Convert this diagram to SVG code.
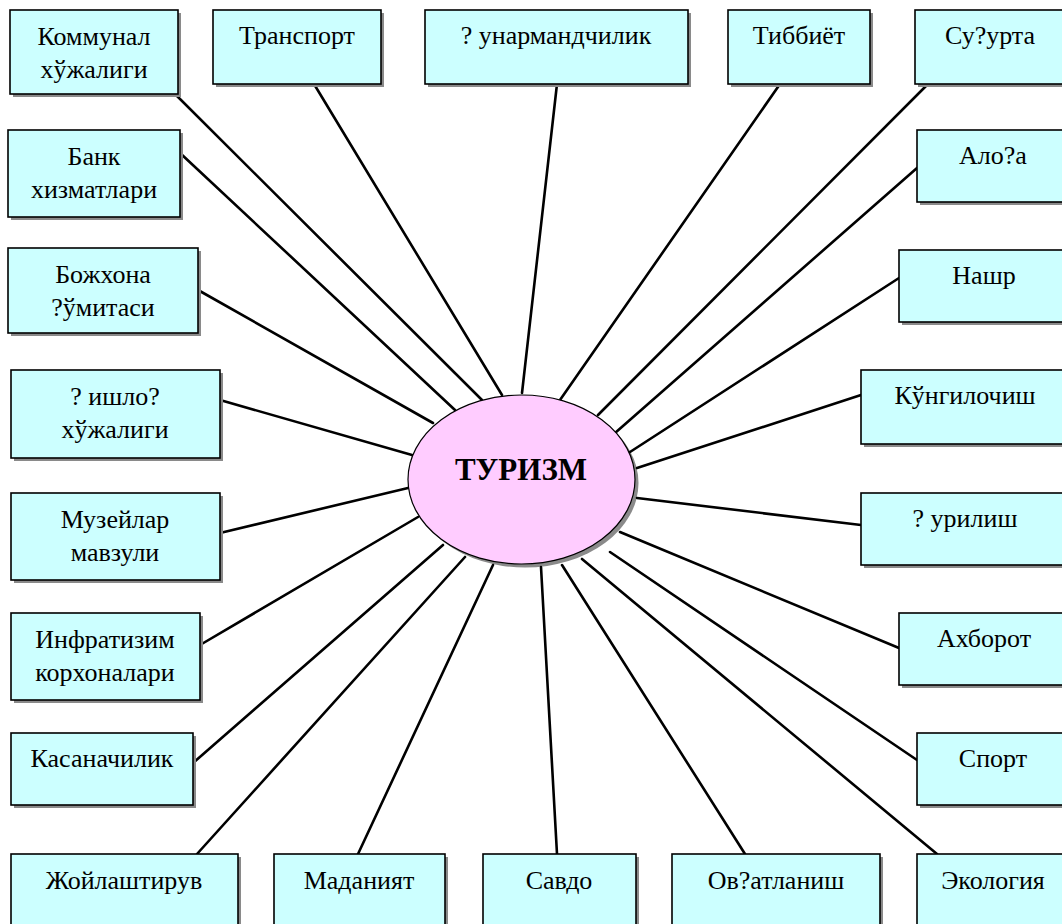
<svg xmlns="http://www.w3.org/2000/svg" width="1062" height="924" viewBox="0 0 1062 924">
<style>
.bx{fill:#CCFFFF;stroke:#000;stroke-width:1.6}
.sh{fill:#8a8a8a}
.t{font-family:"Liberation Serif","Times New Roman",serif;font-size:26px;fill:#000;text-anchor:middle}
.c{stroke:#000;stroke-width:2.6;fill:none;stroke-linecap:round}
.ct{font-family:"Liberation Serif","Times New Roman",serif;font-size:31px;font-weight:bold;fill:#000;text-anchor:middle}
</style>
<rect width="1062" height="924" fill="#fff"/>
<ellipse cx="525" cy="483" rx="113.5" ry="84.5" class="sh"/>
<g id="connectors">
<line class="c" x1="175" y1="94" x2="482" y2="400"/>
<line class="c" x1="314" y1="84" x2="502" y2="395"/>
<line class="c" x1="557" y1="84" x2="522" y2="393"/>
<line class="c" x1="780" y1="84" x2="560" y2="400"/>
<line class="c" x1="928" y1="84" x2="598" y2="415"/>
<line class="c" x1="180" y1="153" x2="455" y2="410"/>
<line class="c" x1="917" y1="168" x2="615" y2="433"/>
<line class="c" x1="198" y1="290" x2="433" y2="423"/>
<line class="c" x1="899" y1="278" x2="630" y2="452"/>
<line class="c" x1="220" y1="400" x2="412" y2="455"/>
<line class="c" x1="861" y1="395" x2="637" y2="468"/>
<line class="c" x1="220" y1="533" x2="408" y2="488"/>
<line class="c" x1="861" y1="525" x2="637" y2="498"/>
<line class="c" x1="200" y1="645" x2="418" y2="517"/>
<line class="c" x1="899" y1="648" x2="620" y2="532"/>
<line class="c" x1="193" y1="763" x2="443" y2="545"/>
<line class="c" x1="917" y1="760" x2="610" y2="552"/>
<line class="c" x1="197" y1="854" x2="465" y2="557"/>
<line class="c" x1="358" y1="854" x2="493" y2="565"/>
<line class="c" x1="557" y1="854" x2="541" y2="567"/>
<line class="c" x1="745" y1="854" x2="562" y2="565"/>
<line class="c" x1="937" y1="854" x2="582" y2="559"/>
</g>
<g id="center">
<ellipse cx="521.5" cy="479.5" rx="113.5" ry="84.5" fill="#FFCCFF" stroke="#000" stroke-width="1.2"/>
<text class="ct" x="521" y="480">ТУРИЗМ</text>
</g>
<g id="n-kommunal"><rect class="sh" x="13" y="13" width="168" height="84"/><rect class="bx" x="10" y="10" width="168" height="84"/><text class="t" x="94" y="45">Коммунал</text><text class="t" x="94" y="78">хўжалиги</text></g>
<g id="n-transport"><rect class="sh" x="216" y="13" width="168" height="74"/><rect class="bx" x="213" y="10" width="168" height="74"/><text class="t" x="297" y="44">Транспорт</text></g>
<g id="n-hunarmand"><rect class="sh" x="428" y="13" width="263" height="74"/><rect class="bx" x="425" y="10" width="263" height="74"/><text class="t" x="556" y="44">? унармандчилик</text></g>
<g id="n-tibbiyot"><rect class="sh" x="731" y="13" width="142" height="74"/><rect class="bx" x="728" y="10" width="142" height="74"/><text class="t" x="799" y="44">Тиббиёт</text></g>
<g id="n-sugurta"><rect class="sh" x="918" y="13" width="155" height="74"/><rect class="bx" x="915" y="10" width="155" height="74"/><text class="t" x="990" y="44">Су?урта</text></g>
<g id="n-bank"><rect class="sh" x="11" y="133" width="172" height="87"/><rect class="bx" x="8" y="130" width="172" height="87"/><text class="t" x="94" y="165">Банк</text><text class="t" x="94" y="198">хизматлари</text></g>
<g id="n-bojxona"><rect class="sh" x="11" y="251" width="190" height="85"/><rect class="bx" x="8" y="248" width="190" height="85"/><text class="t" x="103" y="283">Божхона</text><text class="t" x="103" y="316">?ўмитаси</text></g>
<g id="n-qishloq"><rect class="sh" x="14" y="373" width="209" height="88"/><rect class="bx" x="11" y="370" width="209" height="88"/><text class="t" x="115" y="405">? ишло?</text><text class="t" x="115" y="438">хўжалиги</text></g>
<g id="n-muzey"><rect class="sh" x="14" y="496" width="209" height="87"/><rect class="bx" x="11" y="493" width="209" height="87"/><text class="t" x="115" y="528">Музейлар</text><text class="t" x="115" y="561">мавзули</text></g>
<g id="n-infra"><rect class="sh" x="14" y="616" width="189" height="87"/><rect class="bx" x="11" y="613" width="189" height="87"/><text class="t" x="105" y="648">Инфратизим</text><text class="t" x="105" y="681">корхоналари</text></g>
<g id="n-kasana"><rect class="sh" x="14" y="736" width="182" height="72"/><rect class="bx" x="11" y="733" width="182" height="72"/><text class="t" x="102" y="767">Касаначилик</text></g>
<g id="n-joylash"><rect class="sh" x="14" y="857" width="227" height="80"/><rect class="bx" x="11" y="854" width="227" height="80"/><text class="t" x="124" y="889">Жойлаштирув</text></g>
<g id="n-madaniyat"><rect class="sh" x="277" y="857" width="171" height="80"/><rect class="bx" x="274" y="854" width="171" height="80"/><text class="t" x="359" y="889">Маданият</text></g>
<g id="n-savdo"><rect class="sh" x="486" y="857" width="153" height="80"/><rect class="bx" x="483" y="854" width="153" height="80"/><text class="t" x="559" y="889">Савдо</text></g>
<g id="n-ovqat"><rect class="sh" x="675" y="857" width="208" height="80"/><rect class="bx" x="672" y="854" width="208" height="80"/><text class="t" x="776" y="889">Ов?атланиш</text></g>
<g id="n-ekologiya"><rect class="sh" x="920" y="857" width="152" height="80"/><rect class="bx" x="917" y="854" width="152" height="80"/><text class="t" x="993" y="889">Экология</text></g>
<g id="n-aloqa"><rect class="sh" x="920" y="133" width="152" height="72"/><rect class="bx" x="917" y="130" width="152" height="72"/><text class="t" x="993" y="164">Ало?а</text></g>
<g id="n-nashr"><rect class="sh" x="902" y="253" width="170" height="72"/><rect class="bx" x="899" y="250" width="170" height="72"/><text class="t" x="984" y="284">Нашр</text></g>
<g id="n-kungil"><rect class="sh" x="864" y="373" width="208" height="74"/><rect class="bx" x="861" y="370" width="208" height="74"/><text class="t" x="965" y="404">Кўнгилочиш</text></g>
<g id="n-qurilish"><rect class="sh" x="864" y="496" width="208" height="72"/><rect class="bx" x="861" y="493" width="208" height="72"/><text class="t" x="965" y="527">? урилиш</text></g>
<g id="n-axborot"><rect class="sh" x="902" y="616" width="170" height="72"/><rect class="bx" x="899" y="613" width="170" height="72"/><text class="t" x="984" y="647">Ахборот</text></g>
<g id="n-sport"><rect class="sh" x="920" y="736" width="152" height="72"/><rect class="bx" x="917" y="733" width="152" height="72"/><text class="t" x="993" y="767">Спорт</text></g>
</svg>
